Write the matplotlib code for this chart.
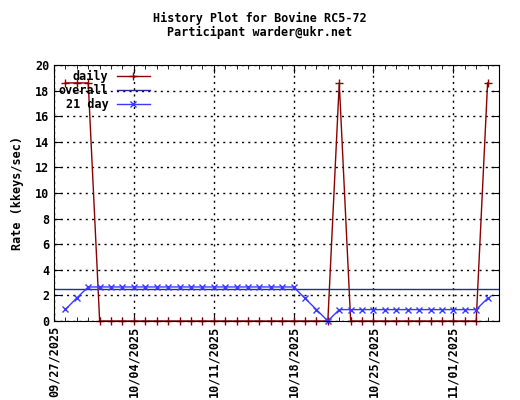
#!/usr/bin/env python3
"""History plot for Bovine RC5-72 participant."""

import matplotlib
matplotlib.use('Agg')
import matplotlib.pyplot as plt
import matplotlib.dates as mdates
import numpy as np
import pandas as pd

# daily rate (kkeys/sec), one value per day starting 09/28/2025
start_date = '2025-09-28'
daily = [18.6, 18.6, 18.6, 0, 0, 0, 0, 0, 0, 0, 0, 0, 0, 0, 0, 0, 0, 0, 0, 0, 0, 0, 0,
         0, 18.6, 0, 0, 0, 0, 0, 0, 0, 0, 0, 0, 0, 0, 18.6]
avg21 = [0.9, 1.8, 2.66, 2.66, 2.66, 2.66, 2.66, 2.66, 2.66, 2.66, 2.66, 2.66, 2.66, 2.66,
         2.66, 2.66, 2.66, 2.66, 2.66, 2.66, 2.66, 1.77, 0.89, 0.0, 0.89, 0.89, 0.89, 0.89,
         0.89, 0.89, 0.89, 0.89, 0.89, 0.89, 0.89, 0.89, 0.89, 1.77]
overall = 2.47

x_start = '2025-09-27'
x_end = '2025-11-05'
tick_dates = ['2025-09-27', '2025-10-04', '2025-10-11', '2025-10-18', '2025-10-25', '2025-11-01']

dates = pd.date_range(start_date, periods=len(daily), freq='D')

plt.rcParams['font.family'] = ['DejaVu Sans Mono']
plt.rcParams['font.weight'] = 'bold'

fig = plt.figure(figsize=(5.2, 4.0), dpi=100)
ax = fig.add_axes([54 / 520, 1 - 321 / 400, 445 / 520, 256 / 400])

ax.plot(dates, daily, color='#8b0000', linewidth=1, marker='+', markersize=6,
        markeredgewidth=1, label='daily', clip_on=False, zorder=2)
ax.axhline(overall, color='#2a2a96', linewidth=1, label='overall', zorder=2)
ax.plot(dates, avg21, color='#3a3aff', linewidth=1, marker='x', markersize=5,
        markeredgewidth=1, label='21 day', clip_on=False, zorder=2)

ax.set_xlim(pd.Timestamp(x_start), pd.Timestamp(x_end))
ax.set_ylim(0, 20)
ax.set_yticks(np.arange(0, 21, 2))
ax.set_xticks(pd.to_datetime(tick_dates))
ax.xaxis.set_major_formatter(mdates.DateFormatter('%m/%d/%Y'))
ax.xaxis.set_minor_locator(mdates.DayLocator())
ax.tick_params(axis='x', labelrotation=90)
ax.tick_params(which='both', direction='in', top=True, right=True, labelsize=8.5)
ax.tick_params(which='major', length=6)
ax.tick_params(which='minor', length=3)
ax.grid(True, which='major', color='black', linestyle=(0, (1.5, 3)), linewidth=1)

ax.set_ylabel('Rate (kkeys/sec)', fontsize=8.5, fontweight='bold', labelpad=8)
fig.suptitle('History Plot for Bovine RC5-72\nParticipant warder@ukr.net',
             fontsize=8.5, fontweight='bold', y=0.97, linespacing=1.1)

leg = ax.legend(loc='upper left', frameon=False, fontsize=8.5, markerfirst=False,
                handlelength=2.8, handletextpad=0.7, borderaxespad=0.2, borderpad=0.2,
                labelspacing=0.08)
for t in leg.get_texts():
    t.set_ha('right')

plt.savefig('out.png', dpi=100)
plt.close()
